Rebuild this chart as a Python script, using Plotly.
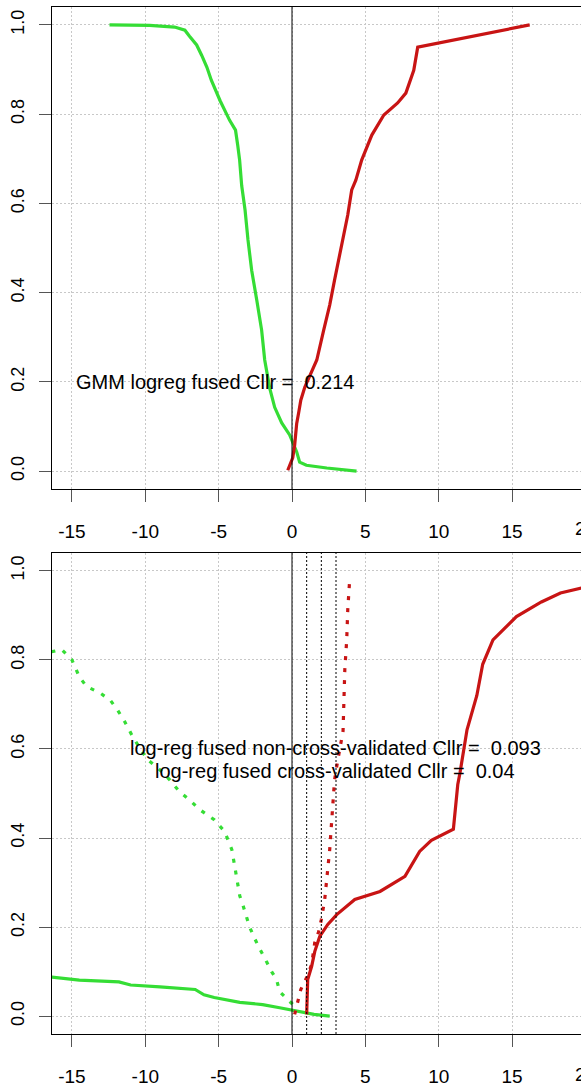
import plotly.graph_objects as go
from plotly.subplots import make_subplots

# ---------------- data ----------------
x_ticks = [-15, -10, -5, 0, 5, 10, 15, 20]
y_ticks = [0.0, 0.2, 0.4, 0.6, 0.8, 1.0]
y_tick_text = ["0.0", "0.2", "0.4", "0.6", "0.8", "1.0"]

# top panel: GMM logreg fused
top_green_x = [-12.44, -9.7, -8.0, -7.3, -7.0, -6.5, -6.16, -5.8, -5.5, -4.9, -4.25, -3.85,
               -3.7, -3.57, -3.43, -3.2, -3.0, -2.75, -2.4, -2.07, -1.86, -1.52, -1.18,
               -0.70, -0.16, 0.05, 0.32, 0.52, 0.98, 2.37, 4.4]
top_green_y = [1.0, 0.999, 0.995, 0.988, 0.975, 0.955, 0.932, 0.905, 0.876, 0.83, 0.786, 0.764,
               0.73, 0.697, 0.64, 0.585, 0.518, 0.45, 0.383, 0.316, 0.249, 0.186, 0.143,
               0.108, 0.081, 0.063, 0.043, 0.02, 0.013, 0.007, 0.0]
top_red_x = [-0.29, 0.05, 0.18, 0.32, 0.46, 0.6, 0.87, 1.07, 1.34, 1.69, 2.16, 2.57, 2.9, 3.26,
             3.53, 3.8, 4.07, 4.35, 4.75, 5.44, 6.26, 7.2, 7.76, 8.3, 8.57, 16.2]
top_red_y = [0.002, 0.03, 0.058, 0.107, 0.132, 0.159, 0.188, 0.204, 0.225, 0.249, 0.316, 0.372,
             0.428, 0.484, 0.529, 0.574, 0.63, 0.652, 0.697, 0.753, 0.798, 0.825, 0.847, 0.898,
             0.95, 1.0]
top_label = "GMM logreg fused Cllr =  0.214"
top_label_pos = (-5.28, 0.2)

# bottom panel: log-reg fused, non-cross-validated (solid) vs cross-validated (dotted)
bot_green_solid_x = [-16.4, -14.5, -11.8, -11.0, -9.0, -6.6, -6.0, -5.3, -3.56, -2.0, -0.84,
                     0.5, 1.5, 2.57]
bot_green_solid_y = [0.088, 0.081, 0.077, 0.07, 0.066, 0.06, 0.048, 0.042, 0.031, 0.026, 0.019,
                     0.01, 0.004, 0.0]
bot_green_dot_x = [-16.4, -15.7, -15.0, -14.5, -14.0, -13.1, -12.4, -11.9, -11.4, -10.9, -10.4,
                   -9.85, -9.0, -8.35, -7.67, -7.0, -6.3, -5.3, -4.6, -4.1, -3.56, -3.35,
                   -2.89, -2.34, -1.73, -1.39, -1.05, -0.84, -0.29, 0.3]
bot_green_dot_y = [0.818, 0.823, 0.80, 0.762, 0.74, 0.726, 0.71, 0.688, 0.661, 0.63, 0.603,
                   0.576, 0.553, 0.531, 0.504, 0.486, 0.464, 0.441, 0.415, 0.374, 0.27, 0.25,
                   0.2, 0.16, 0.122, 0.10, 0.082, 0.055, 0.037, 0.019]
bot_red_solid_x = [1.0, 1.07, 1.34, 1.55, 1.89, 2.44, 3.05, 4.28, 6.0, 7.7, 8.7, 9.5, 11.0,
                   11.3, 11.45, 11.93, 12.6, 13.0, 13.7, 15.3, 17.0, 18.3, 19.8]
bot_red_solid_y = [0.004, 0.082, 0.112, 0.145, 0.179, 0.206, 0.228, 0.262, 0.28, 0.314, 0.37,
                   0.395, 0.42, 0.52, 0.546, 0.643, 0.72, 0.79, 0.845, 0.897, 0.93, 0.95, 0.962]
bot_red_dot_x = [0.18, 0.39, 0.6, 1.0, 1.34, 1.55, 1.82, 2.0, 2.1, 2.23, 2.57, 2.71, 2.9, 3.1,
                 3.26, 3.48, 3.6, 3.73, 3.8, 3.87, 3.94]
bot_red_dot_y = [0.004, 0.03, 0.06, 0.087, 0.116, 0.165, 0.19, 0.217, 0.24, 0.262, 0.374, 0.44,
                 0.53, 0.571, 0.6, 0.64, 0.778, 0.845, 0.912, 0.957, 0.984]
bot_thresholds = [1, 2, 3]
bot_label_1 = "log-reg fused non-cross-validated Cllr =  0.093"
bot_label_2 = "log-reg fused cross-validated Cllr =  0.04"
bot_label_x = 2.95
bot_label_y = [0.603, 0.55]

# ---------------- style ----------------
GREEN = "#35dd35"
RED = "#c81414"
X_RANGE = [-16.36, 19.70]
Y_RANGE = [-0.04, 1.04]
FONT = "Liberation Sans, Arial, sans-serif"

fig = make_subplots(rows=2, cols=1, shared_xaxes=False, vertical_spacing=0.06)

def line(x, y, color, dash, row):
    fig.add_trace(go.Scatter(x=x, y=y, mode="lines", showlegend=False,
                             line=dict(color=color, width=3.2, dash=dash)), row=row, col=1)

line(top_green_x, top_green_y, GREEN, "solid", 1)
line(top_red_x, top_red_y, RED, "solid", 1)
line(bot_green_solid_x, bot_green_solid_y, GREEN, "solid", 2)
line(bot_green_dot_x, bot_green_dot_y, GREEN, "4px,8px", 2)
line(bot_red_solid_x, bot_red_solid_y, RED, "solid", 2)
line(bot_red_dot_x, bot_red_dot_y, RED, "4px,8px", 2)

axis_common = dict(
    showline=True, mirror=True, linecolor="black", linewidth=1,
    showgrid=True, gridcolor="#c8c8c8", griddash="2px,2px", gridwidth=1,
    zeroline=False, ticks="outside", ticklen=12, tickcolor="#555555", tickwidth=1,
    automargin=False,
)
for r in (1, 2):
    fig.update_xaxes(range=X_RANGE, tickvals=x_ticks, ticktext=[str(v) for v in x_ticks],
                     ticklabelstandoff=13, row=r, col=1,
                     tickfont=dict(family=FONT, size=19, color="black"), **axis_common)
    fig.update_yaxes(range=Y_RANGE, tickvals=y_ticks, ticktext=y_tick_text, tickangle=-90,
                     ticklabelstandoff=8, row=r, col=1,
                     tickfont=dict(family=FONT, size=18, color="black"), **axis_common)

fig.update_layout(
    yaxis=dict(domain=[0.5307, 1.0]),
    yaxis2=dict(domain=[0.0, 0.4684]),
    xaxis=dict(domain=[0, 1]), xaxis2=dict(domain=[0, 1]),
)

# vertical reference lines
for xr, yr in (("x", "y domain"), ("x2", "y2 domain")):
    fig.add_shape(type="line", xref=xr, yref=yr, x0=0, x1=0, y0=0, y1=1,
                  line=dict(color="black", width=1))
for t in bot_thresholds:
    fig.add_shape(type="line", xref="x2", yref="y2 domain", x0=t, x1=t, y0=0, y1=1,
                  line=dict(color="black", width=1, dash="2px,2px"))

# text labels
fig.add_annotation(x=top_label_pos[0], y=top_label_pos[1], xref="x", yref="y", text=top_label,
                   showarrow=False, font=dict(family=FONT, size=20, color="black"))
for txt, yy in zip([bot_label_1, bot_label_2], bot_label_y):
    fig.add_annotation(x=bot_label_x, y=yy, xref="x2", yref="y2", text=txt, showarrow=False,
                       font=dict(family=FONT, size=20, color="black"))

# partially visible "20" tick label at the cut-off right edge
span = X_RANGE[1] - X_RANGE[0]
for dom_bottom in (0.5307, 0.0):
    fig.add_annotation(x=(x_ticks[-1] - X_RANGE[0]) / span, xref="paper",
                       y=dom_bottom, yref="paper", yshift=-40, text=str(x_ticks[-1]),
                       showarrow=False, xanchor="center", yanchor="middle",
                       font=dict(family=FONT, size=19, color="black"))

fig.update_layout(
    width=581, height=1086,
    margin=dict(l=52, r=0, t=7, b=52),
    paper_bgcolor="white", plot_bgcolor="white",
    font=dict(family=FONT, color="black"),
)

fig.write_html("out.html", config={"displayModeBar": False},
               post_script="document.body.style.margin='0px';")
